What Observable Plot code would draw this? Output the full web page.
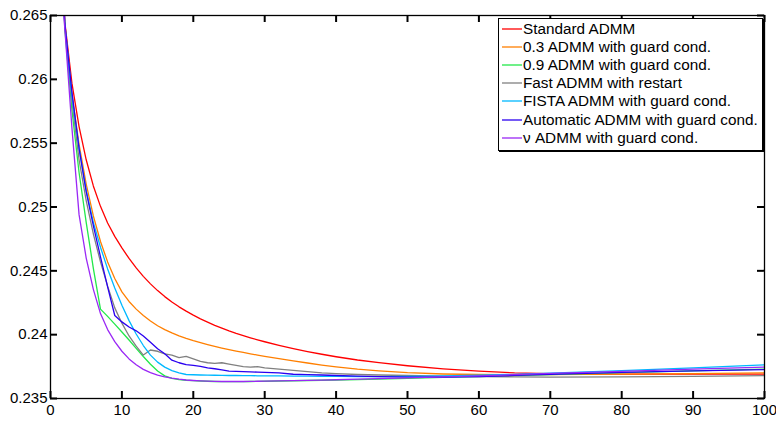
<!DOCTYPE html>
<html><head><meta charset="utf-8">
<script src="https://cdn.jsdelivr.net/npm/d3@7"></script>
<script src="https://cdn.jsdelivr.net/npm/@observablehq/plot@0.6"></script>
<style>
body{margin:0;background:#fff;}
#wrap{position:relative;width:776px;height:421px;font-family:"Liberation Sans",Arial,sans-serif;}
#legend{position:absolute;left:498px;top:18px;width:263px;height:131px;border:1px solid #000;box-shadow:1px 1px 0 #000;background:#fff;font-size:15.3px;color:#000;}
.row{position:absolute;left:0;height:18px;line-height:18px;white-space:nowrap;}
.sw{position:absolute;left:3px;top:8px;}
.lbl{position:absolute;left:24px;top:0;}
</style></head>
<body><div id="wrap"></div>
<script>
const iters = [1,2,3,4,5,6,7,8,9,10,11,12,13,14,15,16,17,18,19,20,21,22,23,24,25,26,27,28,29,30,32,34,36,38,40,43,46,50,55,60,65,70,80,90,100];

const standard = [0.278,0.2645,0.2597,0.2563,0.2537,0.25165,0.25005,0.24875,0.2477,0.2468,0.24597,0.24523,0.24457,0.24398,0.24345,0.24298,0.24256,0.24218,0.24184,0.24153,0.24124,0.24098,0.24073,0.24051,0.2403,0.240105,0.239925,0.239755,0.239595,0.239445,0.23917,0.238915,0.23868,0.238465,0.23827,0.238015,0.237803,0.237565,0.237328,0.237143,0.237008,0.236938,0.236908,0.236908,0.236913];
const admm03 = [0.278,0.2644,0.2588,0.2549,0.2518,0.2493,0.2473,0.2457,0.2444,0.24335,0.2426,0.242,0.2415,0.24107,0.2407,0.2404,0.24014,0.23991,0.23971,0.23953,0.23937,0.23922,0.23908,0.23895,0.23883,0.238715,0.238605,0.2385,0.2384,0.238305,0.238125,0.23795,0.23778,0.23762,0.23748,0.2373,0.23716,0.23702,0.23692,0.23688,0.23687,0.23688,0.23691,0.23695,0.23701];
const admm09 = [0.278,0.264,0.2576,0.2527,0.2488,0.2452,0.242,0.24143,0.24083,0.24021,0.23958,0.23893,0.23829,0.23768,0.23715,0.23677,0.23658,0.23648,0.23643,0.2364,0.23637,0.23635,0.23633,0.23632,0.23632,0.23632,0.23632,0.23633,0.23634,0.23635,0.23637,0.23639,0.23641,0.23643,0.23645,0.23648,0.23652,0.23658,0.23665,0.23672,0.2368,0.23688,0.23703,0.23717,0.2373];
const fastRestart = [0.278,0.2642,0.2583,0.2537,0.2505,0.2479,0.2457,0.2438,0.2421,0.2409,0.2399,0.2391,0.2384,0.2388,0.2387,0.2385,0.2384,0.2382,0.2383,0.2381,0.2379,0.2378,0.23775,0.2378,0.2377,0.2376,0.2375,0.23745,0.2375,0.2374,0.2373,0.2372,0.2371,0.237,0.23695,0.23688,0.23684,0.2368,0.23676,0.23672,0.2367,0.23668,0.23669,0.23673,0.2368];
const fista = [0.278,0.2643,0.2587,0.2546,0.2513,0.2488,0.24685,0.24515,0.24365,0.2423,0.2411,0.24005,0.23915,0.2384,0.23785,0.23746,0.23719,0.237,0.23688,0.23686,0.23684,0.23683,0.23682,0.23681,0.2368,0.2368,0.23679,0.23679,0.23678,0.23678,0.23677,0.23676,0.23675,0.23674,0.23673,0.23672,0.23672,0.23673,0.23677,0.23682,0.23689,0.23698,0.23719,0.2374,0.23764];
const automatic = [0.278,0.2644,0.259,0.2546,0.2512,0.24855,0.2461,0.24375,0.2415,0.241,0.2406,0.2403,0.2399,0.2394,0.2389,0.2385,0.238,0.2378,0.23766,0.2376,0.23752,0.2374,0.23733,0.23725,0.23715,0.23712,0.2371,0.23708,0.23707,0.23705,0.237,0.2369,0.23687,0.23684,0.2368,0.23676,0.23672,0.23668,0.23668,0.23672,0.23681,0.2369,0.23705,0.23717,0.23727];
const nu = [0.2717,0.264,0.2562,0.2494,0.246,0.24355,0.24165,0.2404,0.23945,0.2387,0.2381,0.23764,0.23728,0.23702,0.23683,0.23669,0.23659,0.23651,0.23645,0.23641,0.23638,0.23636,0.23634,0.23633,0.23633,0.23633,0.23633,0.23634,0.23635,0.23636,0.23638,0.2364,0.23642,0.23644,0.23647,0.23651,0.23655,0.23661,0.23669,0.23677,0.23687,0.23697,0.23713,0.2373,0.23746];

const seriesNames = ["Standard ADMM","0.3 ADMM with guard cond.","0.9 ADMM with guard cond.","Fast ADMM with restart","FISTA ADMM with guard cond.","Automatic ADMM with guard cond.","\u03bd ADMM with guard cond."];
const seriesValues = [standard, admm03, admm09, fastRestart, fista, automatic, nu];
const seriesColors = ["#ff0000","#ff7f00","#22e84a","#808080","#00b8ff","#2a00f0","#9a28f5"];

const xTicks = [0,10,20,30,40,50,60,70,80,90,100];
const yTicks = [0.235,0.24,0.245,0.25,0.255,0.26,0.265];

const rows = [];
seriesNames.forEach((name, s) => {
  seriesValues[s].forEach((v, i) => rows.push({series: name, iter: iters[i], value: v}));
});

const W = 776, H = 421, mL = 50, mR = 12, mT = 15, mB = 23, tick = 7;
const frameW = W - mL - mR, frameH = H - mT - mB;
const tickStroke = {stroke: "#000", strokeWidth: 2};

const chart = Plot.plot({
  width: W,
  height: H,
  marginLeft: mL,
  marginRight: mR,
  marginTop: mT,
  marginBottom: mB,
  style: {fontFamily: "'Liberation Sans', Arial, sans-serif", fontSize: "15px", background: "#fff", color: "#000"},
  x: {domain: [0, 100]},
  y: {domain: [0.235, 0.265]},
  color: {domain: seriesNames, range: seriesColors},
  marks: [
    Plot.line(rows, {x: "iter", y: "value", z: "series", stroke: "series", strokeWidth: 1.3, clip: true}),
    Plot.ruleX(xTicks, {x: d => d, insetBottom: frameH - tick, ...tickStroke}),
    Plot.ruleX(xTicks, {x: d => d, insetTop: frameH - tick, ...tickStroke}),
    Plot.ruleY(yTicks, {y: d => d, insetRight: frameW - tick, ...tickStroke}),
    Plot.ruleY(yTicks, {y: d => d, insetLeft: frameW - tick, ...tickStroke}),
    Plot.frame({stroke: "#000", strokeWidth: 1.3}),
    Plot.axisX({anchor: "bottom", ticks: xTicks, tickSize: 0, tickPadding: 6, label: null, tickFormat: d => String(d)}),
    Plot.axisY({anchor: "left", ticks: yTicks, tickSize: 0, tickPadding: 3, label: null, tickFormat: d => String(d)})
  ]
});

const wrap = document.getElementById("wrap");
wrap.appendChild(chart);

const ns = "http://www.w3.org/2000/svg";
const legend = document.createElement("div");
legend.id = "legend";
seriesNames.forEach((name, i) => {
  const row = document.createElement("div");
  row.className = "row";
  row.style.top = (1 + 18.1 * i) + "px";
  const sw = document.createElementNS(ns, "svg");
  sw.setAttribute("class", "sw");
  sw.setAttribute("width", "20");
  sw.setAttribute("height", "2");
  const ln = document.createElementNS(ns, "line");
  ln.setAttribute("x1", "0"); ln.setAttribute("x2", "20");
  ln.setAttribute("y1", "1"); ln.setAttribute("y2", "1");
  ln.setAttribute("stroke", seriesColors[i]);
  ln.setAttribute("stroke-width", "1.3");
  sw.appendChild(ln);
  const lbl = document.createElement("span");
  lbl.className = "lbl";
  lbl.textContent = name;
  row.appendChild(sw);
  row.appendChild(lbl);
  legend.appendChild(row);
});
wrap.appendChild(legend);
</script></body></html>
